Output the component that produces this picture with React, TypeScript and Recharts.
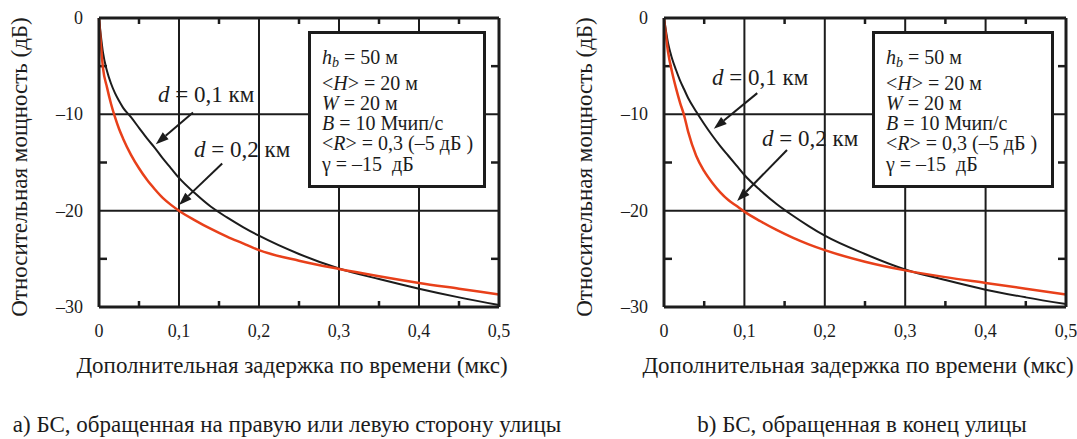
import { Line, LineChart, ReferenceLine, XAxis, YAxis } from "recharts";

// delay (мкс) sample points shared by all curves
const delay = [
  0, 0.005, 0.01, 0.015, 0.02, 0.025, 0.03, 0.04, 0.05, 0.06, 0.07, 0.08,
  0.09, 0.1, 0.12, 0.14, 0.16, 0.18, 0.2, 0.25, 0.3, 0.35, 0.4, 0.45, 0.5,
];

// a) BS facing the side of the street
const sideNear = [
  0, -3.6, -5.5, -6.8, -7.8, -8.6, -9.3, -10.3, -11.4, -12.5, -13.5, -14.6,
  -15.6, -16.6, -18.2, -19.6, -20.7, -21.7, -22.6, -24.5, -26, -27.1, -28.1,
  -29, -29.8,
];
const sideFar = [
  0, -5.2, -7.2, -8.9, -10.3, -11.5, -12.5, -14.2, -15.6, -16.8, -17.8, -18.7,
  -19.4, -20, -21, -21.9, -22.7, -23.4, -24.1, -25.2, -26.05, -26.8, -27.5,
  -28.1, -28.7,
];

// b) BS facing the end of the street
const endNear = [
  0, -2.6, -4.2, -5.4, -6.5, -7.4, -8.3, -9.7, -11, -12.2, -13.3, -14.3,
  -15.3, -16.3, -17.9, -19.3, -20.5, -21.6, -22.6, -24.5, -26.1, -27.2,
  -28.2, -29, -29.7,
];
const endFar = [
  0, -3.5, -5.6, -7.3, -8.8, -10.1, -11.8, -14.3, -15.9, -17.1, -18.1, -18.9,
  -19.5, -20.1, -21.1, -22, -22.8, -23.5, -24.1, -25.3, -26.2, -26.9, -27.5,
  -28.1, -28.7,
];

const delayTicks = [0, 0.1, 0.2, 0.3, 0.4, 0.5];
const delayLabels = ["0", "0,1", "0,2", "0,3", "0,4", "0,5"];
const powerTicks = [0, -10, -20, -30];
const powerLabels = ["0", "–10", "–20", "–30"];
const delayMinor = [0.05, 0.15, 0.25, 0.35, 0.45];
const powerMinor = [-5, -15, -25];
const delayGrid = [0.1, 0.2, 0.3, 0.4];
const powerGrid = [-10, -20];

// arrow segments [from, to] as (delay, power)
const sideArrows = [
  [[0.1175, -9.8], [0.071, -13.1]],
  [[0.154, -15.1], [0.1, -19.4]],
];
const endArrows = [
  [[0.116, -7.8], [0.062, -11.5]],
  [[0.153, -13.7], [0.091, -19.0]],
];

const INK = "#1c1c1c";
const RED = "#e8401a";
const FONT = "Liberation Serif";

function BottomLabel({ x, y, index }: any) {
  return (
    <text x={x} y={y + 30} textAnchor="middle" fontSize={18} fontFamily={FONT} fill={INK}>
      {delayLabels[index]}
    </text>
  );
}

function LeftLabel({ x, y, index }: any) {
  return (
    <text x={x - 16} y={y + 6} textAnchor="end" fontSize={18} fontFamily={FONT} fill={INK}>
      {powerLabels[index]}
    </text>
  );
}

// short inward tick starting at the segment's first point, pointing to the second
function MinorTick({ x1, y1, x2, y2 }: any) {
  const len = Math.hypot(x2 - x1, y2 - y1) || 1;
  const size = Math.abs(y2 - y1) > Math.abs(x2 - x1) ? 6 : 8;
  return (
    <line
      x1={x1}
      y1={y1}
      x2={x1 + ((x2 - x1) / len) * size}
      y2={y1 + ((y2 - y1) / len) * size}
      stroke={INK}
      strokeWidth={2.5}
    />
  );
}

function Arrow({ x1, y1, x2, y2 }: any) {
  const a = Math.atan2(y2 - y1, x2 - x1);
  const L = 13;
  const W = 4.5;
  const bx = x2 - L * Math.cos(a);
  const by = y2 - L * Math.sin(a);
  const px = -Math.sin(a) * W;
  const py = Math.cos(a) * W;
  return (
    <g>
      <line x1={x1} y1={y1} x2={bx} y2={by} stroke={INK} strokeWidth={2} />
      <polygon
        points={`${x2},${y2} ${bx + px},${by + py} ${bx - px},${by - py}`}
        fill={INK}
      />
    </g>
  );
}

function Panel({
  near,
  far,
  arrows,
  left,
  margin,
  titleX,
  xTitleCenter,
  box,
  label1,
  label2,
  caption,
}: any) {
  const data = delay.map((t, i) => ({ t, near: near[i], far: far[i] }));
  const textStyle: any = { position: "absolute", fontFamily: FONT, color: INK, whiteSpace: "nowrap" };
  const axis = {
    tickSize: 0,
    tickMargin: 0,
    tickLine: false,
    axisLine: { stroke: INK, strokeWidth: 3 },
    interval: 0 as const,
  };
  const minor = (key: string, a: { x: number; y: number }, b: { x: number; y: number }) => (
    <ReferenceLine key={key} ifOverflow="visible" segment={[a, b]} shape={<MinorTick />} />
  );
  return (
    <div style={{ position: "absolute", left, top: 0, width: 540, height: 439 }}>
      <LineChart width={540} height={390} data={data} margin={margin}>
        <XAxis dataKey="t" type="number" domain={[0, 0.5]} ticks={delayTicks} height={1} {...axis} tick={<BottomLabel />} />
        <XAxis xAxisId="top" orientation="top" dataKey="t" type="number" domain={[0, 0.5]} ticks={delayTicks} height={1} {...axis} tick={false} />
        <YAxis type="number" domain={[-30, 0]} ticks={powerTicks} width={1} {...axis} tick={<LeftLabel />} />
        <YAxis yAxisId="right" orientation="right" type="number" domain={[-30, 0]} ticks={powerTicks} width={1} {...axis} tick={false} />
        {delayGrid.map((v) => (
          <ReferenceLine key={`x${v}`} x={v} stroke={INK} strokeWidth={2} />
        ))}
        {powerGrid.map((v) => (
          <ReferenceLine key={`y${v}`} y={v} stroke={INK} strokeWidth={2} />
        ))}
        {delayMinor.map((v) => minor(`mb${v}`, { x: v, y: -30 }, { x: v, y: 0 }))}
        {delayMinor.map((v) => minor(`mt${v}`, { x: v, y: 0 }, { x: v, y: -30 }))}
        {powerMinor.map((v) => minor(`ml${v}`, { x: 0, y: v }, { x: 0.5, y: v }))}
        {powerMinor.map((v) => minor(`mr${v}`, { x: 0.5, y: v }, { x: 0, y: v }))}
        <Line type="monotone" dataKey="near" stroke={INK} strokeWidth={2} dot={false} isAnimationActive={false} />
        <Line type="monotone" dataKey="far" stroke={RED} strokeWidth={2.5} dot={false} isAnimationActive={false} />
        {arrows.map((s: number[][], i: number) => (
          <ReferenceLine
            key={`a${i}`}
            segment={[{ x: s[0][0], y: s[0][1] }, { x: s[1][0], y: s[1][1] }]}
            shape={<Arrow />}
          />
        ))}
      </LineChart>

      <div
        style={{
          ...textStyle,
          left: titleX - 170,
          top: 167 - 13,
          width: 340,
          textAlign: "center",
          fontSize: 23,
          lineHeight: "26px",
          transform: "rotate(-90deg)",
        }}
      >
        Относительная мощность (дБ)
      </div>

      <div
        style={{
          ...textStyle,
          left: xTitleCenter - 250,
          width: 500,
          top: 354,
          textAlign: "center",
          fontSize: 23,
          lineHeight: "23px",
        }}
      >
        Дополнительная задержка по времени (мкс)
      </div>

      <div
        style={{
          position: "absolute",
          left: box.left,
          top: 31,
          width: box.width,
          height: 157,
          boxSizing: "border-box",
          border: `3px solid ${INK}`,
          background: "#fff",
          padding: "13px 0 0 11px",
          fontFamily: FONT,
          fontSize: 20,
          lineHeight: "20px",
          color: INK,
          whiteSpace: "nowrap",
        }}
      >
        <div>
          <i>h</i>
          <sub style={{ fontSize: 14, fontStyle: "italic", verticalAlign: "-3px" }}>b</sub> = 50 м
        </div>
        <div>
          &lt;<i>H</i>&gt; = 20 м
        </div>
        <div>
          <i>W</i> = 20 м
        </div>
        <div>
          <i>B</i> = 10 Мчип/с
        </div>
        <div>
          &lt;<i>R</i>&gt; = 0,3 (–5 дБ )
        </div>
        <div style={{ marginTop: 1 }}>γ = –15&nbsp;&nbsp;дБ</div>
      </div>

      <div style={{ ...textStyle, left: label1[0], top: label1[1], fontSize: 23, lineHeight: "23px" }}>
        <i>d</i> = 0,1 км
      </div>
      <div style={{ ...textStyle, left: label2[0], top: label2[1], fontSize: 23, lineHeight: "23px" }}>
        <i>d</i> = 0,2 км
      </div>

      <div
        style={{
          ...textStyle,
          left: caption.center - 300,
          width: 600,
          top: 413,
          textAlign: "center",
          fontSize: 23,
          lineHeight: "23px",
        }}
      >
        {caption.text}
      </div>
    </div>
  );
}

export default function App() {
  return (
    <div style={{ position: "absolute", left: 0, top: 0, width: 1077, height: 439, background: "#fff" }}>
      <Panel
        near={sideNear}
        far={sideFar}
        arrows={sideArrows}
        left={0}
        margin={{ top: 17, right: 40, bottom: 82, left: 98 }}
        titleX={20}
        xTitleCenter={292}
        box={{ left: 308, width: 178 }}
        label1={[158, 83]}
        label2={[194, 138]}
        caption={{ text: "a) БС, обращенная на правую или левую сторону улицы", center: 287 }}
      />
      <Panel
        near={endNear}
        far={endFar}
        arrows={endArrows}
        left={540}
        margin={{ top: 17, right: 13, bottom: 82, left: 123 }}
        titleX={45}
        xTitleCenter={318}
        box={{ left: 332, width: 182 }}
        label1={[172, 66]}
        label2={[222, 127]}
        caption={{ text: "b) БС, обращенная в конец улицы", center: 322 }}
      />
    </div>
  );
}
